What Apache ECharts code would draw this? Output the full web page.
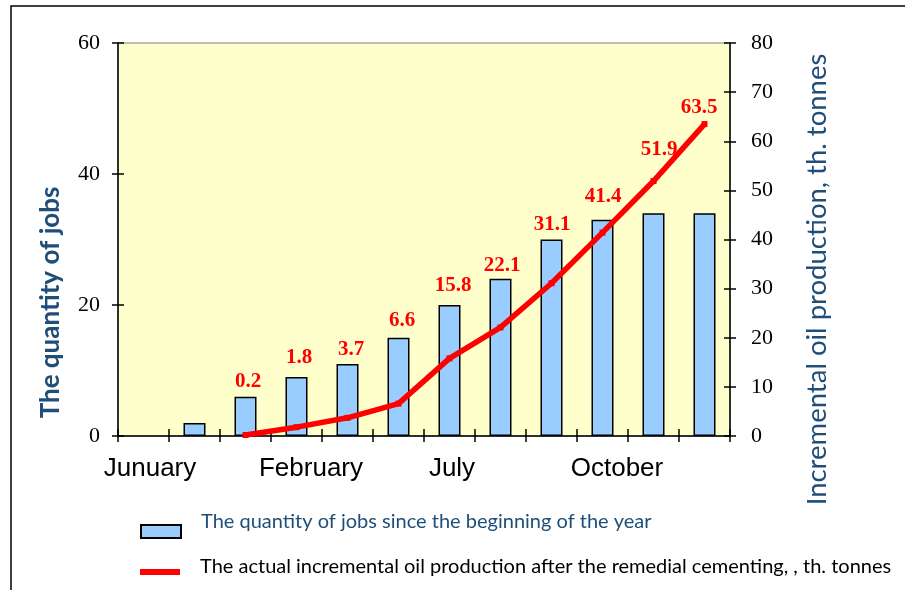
<!DOCTYPE html>
<html>
<head>
<meta charset="utf-8">
<script src="https://cdn.jsdelivr.net/npm/echarts@6/dist/echarts.min.js"></script>
<style>html,body{margin:0;padding:0;background:#fff}#c{width:905px;height:590px}</style>
</head>
<body>
<div id="c"></div>
<script>
// ---- data ----
var categories = ['Junuary', '', '', 'February', '', '', 'July', '', '', 'October', '', ''];
var jobs = [null, 2, 6, 9, 11, 15, 20, 24, 30, 33, 34, 34];
var oil = [null, null, 0.2, 1.8, 3.7, 6.6, 15.8, 22.1, 31.1, 41.4, 51.9, 63.5];
var leftTicks = [0, 20, 40, 60];
var rightTicks = [0, 10, 20, 30, 40, 50, 60, 70, 80];
var barName = 'The quantity of jobs since the beginning of the year';
var lineName = 'The actual incremental oil production after the remedial cementing, , th. tonnes';

// ---- styling (label offsets, not data) ----
var labelOffsets = [null, null, [2.5, -53], [2.5, -70], [3.5, -68], [3.5, -83], [3.5, -73], [1.5, -62], [0.5, -59], [0.5, -36], [5.5, -31], [-5.5, -16]];
var catLabelStyle = {0: 'a', 3: 'b', 6: 'c', 9: 'd'};

var oilData = oil.map(function (v, i) {
  if (v === null) return null;
  return { value: v, label: { offset: labelOffsets[i] } };
});

var serif = "'Liberation Serif', 'Times New Roman', serif";
var sans = "Lato, 'Liberation Sans', sans-serif";
var arial = "'Liberation Sans', Arial, sans-serif";
var titleColor = '#1F4E79';

var chart = echarts.init(document.getElementById('c'), null, { renderer: 'canvas' });
chart.setOption({
  animation: false,
  backgroundColor: '#ffffff',
  grid: {
    left: 118, right: 175, top: 43, bottom: 154,
    show: true, backgroundColor: '#FFFFCC', borderColor: '#808080', borderWidth: 1
  },
  graphic: [{
    type: 'rect', shape: { x: 11, y: 6, width: 1000, height: 1000 },
    style: { fill: 'none', stroke: '#000', lineWidth: 1.5 }, z: 100
  }],
  legend: [{
    data: [{ name: barName, icon: 'rect' }],
    left: 140, top: 512, orient: 'vertical', padding: 0,
    itemWidth: 40, itemHeight: 13,
    selectedMode: false,
    formatter: function (n) { return '{t|' + n + '}'; },
    textStyle: {
      color: titleColor, fontSize: 20, fontFamily: sans,
      rich: { t: { color: titleColor, fontSize: 20, fontFamily: sans, padding: [0, 0, 19, 15] } }
    }
  }, {
    data: [{ name: lineName, icon: 'rect' }],
    left: 140, top: 557, orient: 'vertical', padding: 0,
    itemWidth: 40, itemHeight: 6,
    selectedMode: false,
    formatter: function (n) { return '{t|' + n + '}'; },
    textStyle: {
      color: '#000', fontSize: 20, fontFamily: sans,
      rich: { t: { color: '#000', fontSize: 20, fontFamily: sans, padding: [0, 0, 10, 15] } }
    }
  }],
  xAxis: [{
    type: 'category', data: categories, position: 'bottom',
    axisLine: { lineStyle: { color: '#000', width: 1.5 } },
    axisTick: { show: true, length: 6, interval: 0, lineStyle: { color: '#000', width: 1.5 } },
    axisLabel: {
      interval: 0, margin: 20,
      formatter: function (val, idx) {
        var k = catLabelStyle[idx];
        return k ? '{' + k + '|' + val + '}' : '';
      },
      rich: {
        a: { fontFamily: arial, fontSize: 26, color: '#000', padding: [0, 0, 0, 13] },
        b: { fontFamily: arial, fontSize: 26, color: '#000', padding: [0, 0, 0, 29] },
        c: { fontFamily: arial, fontSize: 26, color: '#000', padding: [0, 0, 0, 5] },
        d: { fontFamily: arial, fontSize: 26, color: '#000', padding: [0, 0, 0, 29] }
      }
    },
    splitLine: { show: false }
  }, {
    type: 'category', data: categories, position: 'bottom',
    axisLine: { show: false },
    axisTick: { show: true, inside: true, length: 7, interval: 0, lineStyle: { color: '#000', width: 1.5 } },
    axisLabel: { show: false },
    splitLine: { show: false }
  }],
  yAxis: [{
    type: 'value', position: 'left', min: leftTicks[0], max: leftTicks[leftTicks.length - 1], interval: 20,
    name: 'The quantity of jobs', nameLocation: 'middle', nameRotate: 90, nameGap: 54,
    nameTextStyle: { color: titleColor, fontSize: 26, fontWeight: 'bold', fontFamily: sans, padding: [0, 126, 0, 0] },
    axisLine: { show: true, lineStyle: { color: '#000', width: 1.5 } },
    axisTick: { show: true, length: 6, lineStyle: { color: '#000', width: 1.5 } },
    axisLabel: { margin: 18, fontFamily: serif, fontSize: 22, color: '#000' },
    splitLine: { show: false }
  }, {
    type: 'value', position: 'right', min: rightTicks[0], max: rightTicks[rightTicks.length - 1], interval: 10,
    name: 'Incremental oil production, th. tonnes', nameLocation: 'middle', nameRotate: 90, nameGap: 73,
    nameTextStyle: { color: titleColor, fontSize: 27.5, fontFamily: sans, padding: [0, 80, 0, 0] },
    axisLine: { show: true, lineStyle: { color: '#000', width: 1.5 } },
    axisTick: { show: true, length: 6, lineStyle: { color: '#000', width: 1.5 } },
    axisLabel: { margin: 21, fontFamily: serif, fontSize: 22, color: '#000' },
    splitLine: { show: false }
  }, {
    type: 'value', position: 'left', min: 0, max: 60, interval: 20,
    axisLine: { show: false }, axisLabel: { show: false }, splitLine: { show: false },
    axisTick: { show: true, inside: true, length: 6, lineStyle: { color: '#000', width: 1.5 } }
  }, {
    type: 'value', position: 'right', min: 0, max: 80, interval: 10,
    axisLine: { show: false }, axisLabel: { show: false }, splitLine: { show: false },
    axisTick: { show: true, inside: true, length: 6, lineStyle: { color: '#000', width: 1.5 } }
  }],
  series: [{
    name: barName, type: 'bar', xAxisIndex: 0, yAxisIndex: 0,
    data: jobs, barWidth: 22,
    itemStyle: { color: '#99CCFF', borderColor: '#000', borderWidth: 1.5 }
  }, {
    name: lineName, type: 'line', xAxisIndex: 0, yAxisIndex: 1,
    data: oilData, connectNulls: false,
    symbol: 'rect', symbolSize: 6, showSymbol: true,
    lineStyle: { color: '#FF0000', width: 5.5 },
    itemStyle: { color: '#FF0000' },
    label: {
      show: true, position: 'inside',
      fontFamily: serif, fontWeight: 'bold', fontSize: 21, color: '#FF0000'
    },
    z: 5
  }]
});
</script>
</body>
</html>
